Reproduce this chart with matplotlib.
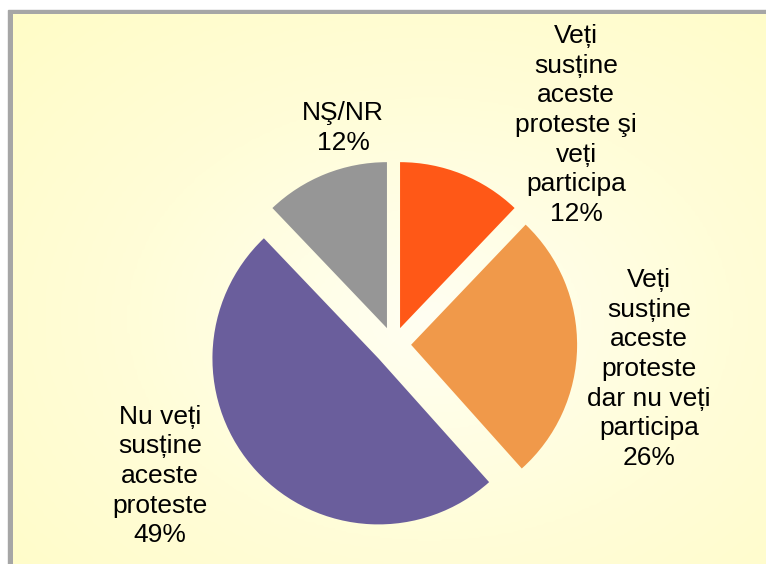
import matplotlib.pyplot as plt
import matplotlib
import numpy as np
from matplotlib.colors import LinearSegmentedColormap

matplotlib.rcParams.update({'font.family': ['Liberation Sans', 'DejaVu Sans'], 'font.size': 19})

# data
labels = ['Veți\nsusține\naceste\nproteste şi\nveți\nparticipa',
          'Veți\nsusține\naceste\nproteste\ndar nu veți\nparticipa',
          'Nu veți\nsusține\naceste\nproteste',
          'NŞ/NR']
values = [12, 26, 49, 12]
colors = ['#FF5817', '#F0994A', '#6A5E9C', '#969696']

# label centres in pixels (x, y from top)
label_pos = [(576, 125), (649, 369), (160, 476), (343, 128)]

W, H = 766, 564
fig = plt.figure(figsize=(W / 100, H / 100), dpi=100)
ax = fig.add_axes([0, 0, 1, 1])

# gray frame + light yellow gradient background
ax.add_patch(plt.Rectangle((8, -5), W, H - 5, color='#A6A6A6', zorder=0))
yy, xx = np.mgrid[0:1:200j, 0:1:200j]
d = np.sqrt(((xx - 0.55) / 0.8) ** 2 + ((yy - 0.55) / 0.8) ** 2)
cmap = LinearSegmentedColormap.from_list('bg', ['#FFFFF2', '#FFFDD8', '#FFFCC6'])
ax.imshow(d, cmap=cmap, extent=(13, W + 5, -5, H - 14), origin='upper',
          aspect='auto', vmin=0, vmax=1, zorder=1)

# explode in pixels
ax.pie(values, colors=colors, startangle=90, counterclock=False,
       explode=[17.6, 17.6, 20.5, 17.6], center=(393.5, H - 344.5), radius=166,
       frame=True, wedgeprops=dict(linewidth=0, zorder=2))
ax.set_xlim(0, W)
ax.set_ylim(0, H)
ax.axis('off')

for lab, v, (px, py) in zip(labels, values, label_pos):
    ax.text(px, H - py, '%s\n%d%%' % (lab, v), ha='center', va='center',
            color='black', linespacing=1.29, zorder=3)

plt.savefig('out.png', dpi=100)
